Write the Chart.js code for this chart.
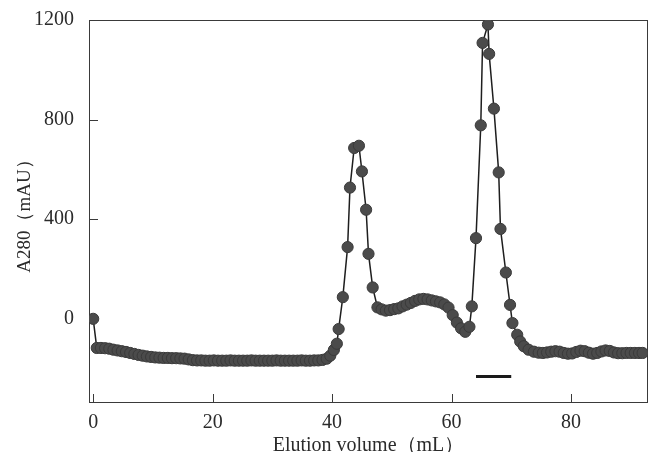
<!DOCTYPE html>
<html>
<head>
<meta charset="utf-8">
<script src="https://cdn.jsdelivr.net/npm/chart.js@4/dist/chart.umd.min.js"></script>
<style>
  html, body { margin: 0; padding: 0; background: #fff; }
  #wrap { width: 657px; height: 452px; position: relative; }
</style>
</head>
<body>
<div id="wrap"><canvas id="c"></canvas></div>
<script>
'use strict';

// elution volume (mL)
var volume = [
  0.0, 0.6, 1.3, 2.0, 2.7, 3.4, 4.1, 4.8, 5.5, 6.2, 6.9, 7.6, 8.3, 9.0, 9.7,
  10.4, 11.1, 11.8, 12.5, 13.2, 13.9, 14.6, 15.3, 16.0, 16.7, 17.4, 18.1, 18.8, 19.5,
  20.2, 20.9, 21.6, 22.3, 23.0, 23.7, 24.4, 25.1, 25.8, 26.5, 27.2, 27.9, 28.6, 29.3,
  30.0, 30.7, 31.4, 32.1, 32.8, 33.5, 34.2, 34.9, 35.6, 36.3, 37.0, 37.7, 38.4, 39.1,
  39.7, 40.3, 40.8, 41.1, 41.8, 42.6, 43.0, 43.7, 44.5, 45.0, 45.7, 46.1, 46.8, 47.6,
  48.3, 49.0, 49.7, 50.4, 51.1, 51.8, 52.5, 53.2, 53.9, 54.6, 55.3, 56.0, 56.7, 57.4,
  58.1, 58.8, 59.5, 60.2, 60.9, 61.6, 62.3, 63.0, 63.4, 64.1, 64.9, 65.2, 66.1, 66.3,
  67.1, 67.9, 68.2, 69.1, 69.8, 70.2, 71.0, 71.5, 72.1, 72.9, 73.8, 74.6, 75.3, 76.0,
  76.7, 77.4, 78.1, 78.8, 79.5, 80.2, 80.9, 81.6, 82.3, 83.0, 83.7, 84.4, 85.1, 85.8,
  86.5, 87.2, 87.9, 88.6, 89.3, 90.0, 90.7, 91.4, 92.0
];

// A280 (mAU)
var a280 = [
  0, -117, -117, -118, -120, -124, -127, -130, -133, -137, -141, -145, -148, -151, -153,
  -155, -156, -157, -157, -158, -158, -159, -160, -163, -166, -167, -167, -168, -168,
  -167, -168, -168, -168, -167, -168, -168, -168, -168, -167, -168, -168, -168, -168,
  -168, -167, -168, -168, -168, -168, -168, -167, -168, -168, -167, -167, -165, -160,
  -148, -125, -100, -41, 87, 288, 527, 686, 695, 592, 438, 261, 126, 46,
  38, 33, 35, 39, 42, 50, 57, 64, 72, 78, 80, 78, 74, 70,
  66, 58, 45, 15, -15, -38, -52, -32, 50, 324, 777, 1108, 1182, 1064,
  844, 588, 361, 186, 56, -17, -64, -91, -110, -124, -132, -136, -137, -135,
  -132, -130, -132, -137, -140, -139, -133, -128, -130, -136, -140, -137, -131, -127,
  -129, -135, -138, -138, -137, -137, -137, -137, -137
];

// pooled fraction bar under the second peak
var poolVolume = [64.1, 70.0];
var poolLevel = [-232, -232];

var xTicks = [0, 20, 40, 60, 80];
var yTicks = [0, 400, 800, 1200];

var serif = { family: "'Liberation Serif', 'DejaVu Serif', serif", size: 20 };

// frame round the plot plus short inward tick marks
var frameTicks = {
  id: 'frameTicks',
  beforeDatasetsDraw: function (chart) {
    var ctx = chart.ctx, a = chart.chartArea;
    var x = chart.scales.x, y = chart.scales.y;
    ctx.save();
    ctx.strokeStyle = '#3a3a3a';
    ctx.lineWidth = 1;
    ctx.strokeRect(a.left + 0.5, a.top + 0.5, a.right - a.left - 1, a.bottom - a.top - 1);
    ctx.beginPath();
    x.ticks.forEach(function (t) {
      var px = Math.round(x.getPixelForValue(t.value)) + 0.5;
      ctx.moveTo(px, a.bottom);
      ctx.lineTo(px, a.bottom - 9);
    });
    y.ticks.forEach(function (t) {
      var py = Math.round(y.getPixelForValue(t.value)) + 0.5;
      ctx.moveTo(a.left, py);
      ctx.lineTo(a.left + 9, py);
    });
    ctx.stroke();
    ctx.restore();
  }
};

new Chart(document.getElementById('c'), {
  type: 'line',
  data: {
    datasets: [
      {
        data: volume.map(function (v, i) { return { x: v, y: a280[i] }; }),
        borderColor: '#1e1e1e',
        borderWidth: 1.5,
        pointRadius: 5.6,
        pointBackgroundColor: '#4b4b4b',
        pointBorderColor: '#3a3a3a',
        pointBorderWidth: 1,
        tension: 0
      },
      {
        data: poolVolume.map(function (v, i) { return { x: v, y: poolLevel[i] }; }),
        borderColor: '#1a1a1a',
        borderWidth: 3,
        pointRadius: 0
      }
    ]
  },
  options: {
    responsive: true,
    maintainAspectRatio: false,
    animation: false,
    layout: { padding: { top: 20, right: 9, left: 0, bottom: 0 } },
    plugins: { legend: { display: false }, tooltip: { enabled: false } },
    scales: {
      x: {
        type: 'linear',
        min: -0.7,
        max: 92.9,
        grid: { display: false },
        border: { display: false },
        afterBuildTicks: function (s) { s.ticks = xTicks.map(function (v) { return { value: v }; }); },
        afterFit: function (s) { s.height = 49; },
        ticks: {
          font: serif, color: '#2b2b2b', padding: 0, maxRotation: 0,
          callback: function (v) { return String(v); }
        },
        title: {
          display: true,
          text: 'Elution volume（mL）',
          font: { family: serif.family, size: 20, lineHeight: 0.6 },
          color: '#2b2b2b',
          padding: 0
        }
      },
      y: {
        min: -338,
        max: 1200,
        grid: { display: false },
        border: { display: false },
        afterBuildTicks: function (s) { s.ticks = yTicks.map(function (v) { return { value: v }; }); },
        afterFit: function (s) { s.width = 89; },
        ticks: {
          font: serif, color: '#2b2b2b', padding: 7,
          callback: function (v) { return String(v); }
        },
        title: {
          display: true,
          text: 'A280（mAU）',
          font: { family: serif.family, size: 19, lineHeight: 1.2 },
          color: '#2b2b2b',
          padding: { top: 14, bottom: 0 }
        }
      }
    }
  },
  plugins: [frameTicks]
});
</script>
</body>
</html>
